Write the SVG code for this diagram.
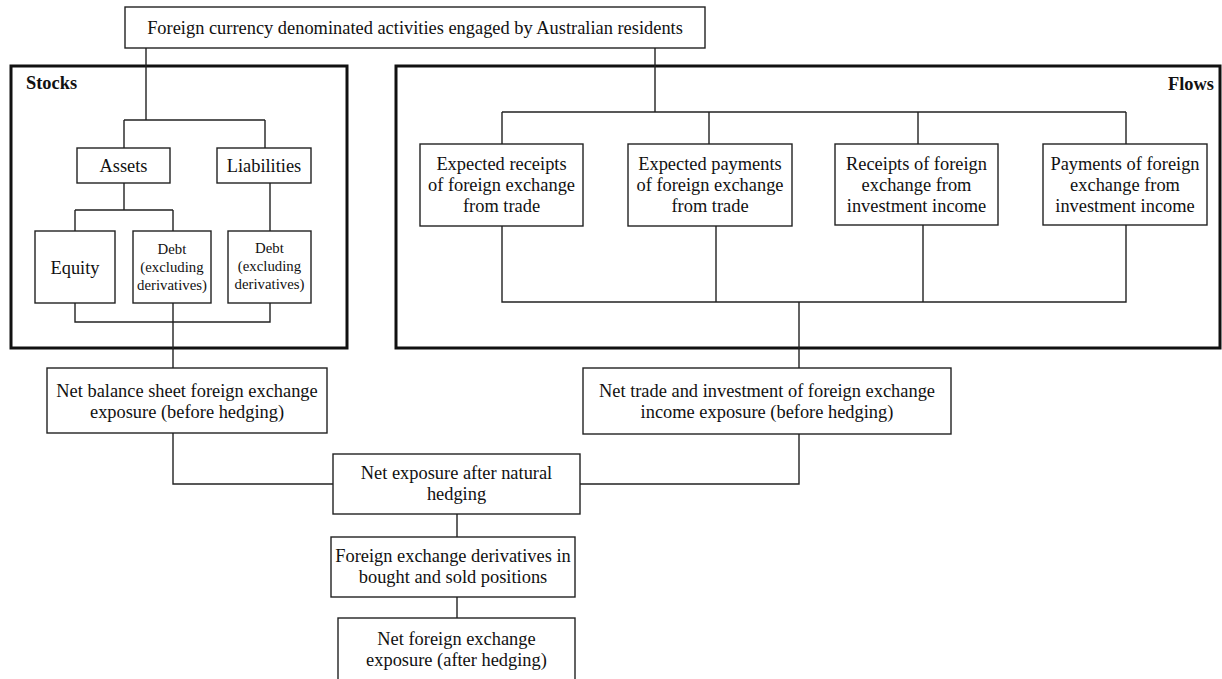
<svg xmlns="http://www.w3.org/2000/svg" width="1222" height="679" viewBox="0 0 1222 679">
<style>
.box{fill:#fff;stroke:#222;stroke-width:1.4}
.frame{fill:none;stroke:#111;stroke-width:3}
.c{fill:none;stroke:#222;stroke-width:1.4}
text{font-family:"Liberation Serif","Times New Roman",serif;font-size:18.4px;fill:#111;text-anchor:middle}
.sm{font-size:14.8px}
.b{font-weight:bold;font-size:18.4px}
</style>
<rect width="1222" height="679" fill="#fff"/>
<g id="stocks-frame"><rect class="frame" x="11" y="66" width="336" height="282"/><text class="b" x="26" y="89" style="text-anchor:start">Stocks</text></g>
<g id="flows-frame"><rect class="frame" x="396" y="66" width="824" height="282"/><text class="b" x="1214" y="90" style="text-anchor:end">Flows</text></g>
<g id="connectors">
<path class="c" d="M146 48V120M124 120H265M124 120V148M265 120V148"/>
<path class="c" d="M124 183V210M75 210H173M75 210V231M173 210V231M270 183V231"/>
<path class="c" d="M75 303V322H270V303M173 303V368"/>
<path class="c" d="M655 48V112M502 112H1126M502 112V144M709 112V144M918 112V144M1126 112V144"/>
<path class="c" d="M502 226V302H1126V225M716 226V302M923 225V302M799 302V368"/>
<path class="c" d="M173 433V484H333M799 434V484H580"/>
<path class="c" d="M457 514V537M457 597V618"/>
</g>
<g id="top"><rect class="box" x="125" y="7" width="580" height="41"/><text x="415" y="34">Foreign currency denominated activities engaged by Australian residents</text></g>
<g id="assets"><rect class="box" x="77" y="148" width="93" height="35"/><text x="123.5" y="172">Assets</text></g>
<g id="liabilities"><rect class="box" x="217" y="148" width="94" height="35"/><text x="264" y="172">Liabilities</text></g>
<g id="equity"><rect class="box" x="35" y="231" width="80" height="72"/><text x="75" y="274">Equity</text></g>
<g id="debt-assets"><rect class="box" x="133" y="231" width="78" height="72"/><text class="sm" x="172" y="254">Debt</text><text class="sm" x="172" y="272">(excluding</text><text class="sm" x="172" y="290">derivatives)</text></g>
<g id="debt-liabilities"><rect class="box" x="228" y="231" width="83" height="72"/><text class="sm" x="269.5" y="253">Debt</text><text class="sm" x="269.5" y="271">(excluding</text><text class="sm" x="269.5" y="289">derivatives)</text></g>
<g id="exp-receipts"><rect class="box" x="420" y="144" width="163" height="82"/><text x="501.5" y="170">Expected receipts</text><text x="501.5" y="191">of foreign exchange</text><text x="501.5" y="212">from trade</text></g>
<g id="exp-payments"><rect class="box" x="628" y="144" width="164" height="82"/><text x="710" y="170">Expected payments</text><text x="710" y="191">of foreign exchange</text><text x="710" y="212">from trade</text></g>
<g id="inv-receipts"><rect class="box" x="835" y="144" width="163" height="81"/><text x="916.5" y="170">Receipts of foreign</text><text x="916.5" y="191">exchange from</text><text x="916.5" y="212">investment income</text></g>
<g id="inv-payments"><rect class="box" x="1043" y="144" width="164" height="81"/><text x="1125" y="170">Payments of foreign</text><text x="1125" y="191">exchange from</text><text x="1125" y="212">investment income</text></g>
<g id="net-balance"><rect class="box" x="47" y="368" width="280" height="65"/><text x="187" y="397">Net balance sheet foreign exchange</text><text x="187" y="418">exposure (before hedging)</text></g>
<g id="net-trade"><rect class="box" x="583" y="368" width="368" height="66"/><text x="767" y="397">Net trade and investment of foreign exchange</text><text x="767" y="418">income exposure (before hedging)</text></g>
<g id="net-natural"><rect class="box" x="333" y="454" width="247" height="60"/><text x="456.5" y="479">Net exposure after natural</text><text x="456.5" y="500">hedging</text></g>
<g id="derivatives"><rect class="box" x="331" y="537" width="244" height="60"/><text x="453" y="562">Foreign exchange derivatives in</text><text x="453" y="583">bought and sold positions</text></g>
<g id="net-after"><rect class="box" x="338" y="618" width="237" height="70"/><text x="456.5" y="645">Net foreign exchange</text><text x="456.5" y="666">exposure (after hedging)</text></g>
</svg>
